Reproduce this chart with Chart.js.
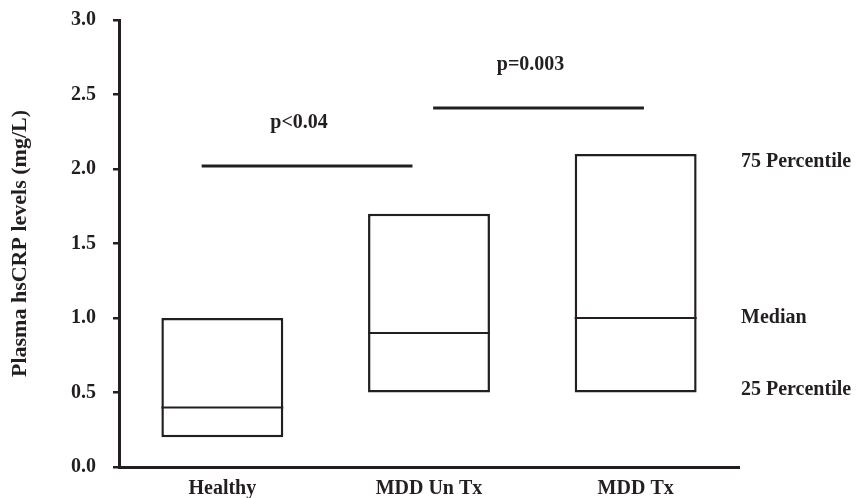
<!DOCTYPE html>
<html>
<head>
<meta charset="utf-8">
<script src="https://cdn.jsdelivr.net/npm/chart.js@4"></script>
<style>
  html, body { margin: 0; padding: 0; background: #fff; }
  #wrap { width: 859px; height: 498px; }
</style>
</head>
<body>
<div id="wrap"><canvas id="crpChart"></canvas></div>
<script>
// groups and box values (mg/L)
const groups = ['Healthy', 'MDD Un Tx', 'MDD Tx'];
const q25 = [0.2, 0.5, 0.5];
const q75 = [1.0, 1.7, 2.1];
const medians = [0.4, 0.9, 1.0];

// significance bars: start/end in category units, level in mg/L
const sigStart = [-0.1, 1.02];
const sigEnd = [0.92, 2.04];
const sigLevel = [2.02, 2.41];
const sigText = ['p<0.04', 'p=0.003'];

// legend labels on the right and the level they sit at
const sideLabels = ['75 Percentile', 'Median', '25 Percentile'];
const sideLevels = [2.05, 1.0, 0.52];

const INK = '#231f20';
const FONT = '"Liberation Serif", "Times New Roman", serif';

// --- median lines, significance bars and side labels ---
const boxExtras = {
  id: 'boxExtras',
  afterDatasetsDraw(chart) {
    const ctx = chart.ctx;
    const x = chart.scales.x, y = chart.scales.y;
    const bars = chart.getDatasetMeta(0).data;
    ctx.save();
    ctx.strokeStyle = INK;
    ctx.lineWidth = 2;
    bars.forEach((bar, i) => {
      const yy = y.getPixelForValue(medians[i]);
      ctx.beginPath();
      ctx.moveTo(bar.x - bar.width / 2, yy);
      ctx.lineTo(bar.x + bar.width / 2, yy);
      ctx.stroke();
    });

    ctx.lineWidth = 3;
    ctx.fillStyle = INK;
    ctx.font = 'bold 20px ' + FONT;
    ctx.textAlign = 'center';
    ctx.textBaseline = 'middle';
    sigText.forEach((t, i) => {
      const x0 = x.getPixelForValue(sigStart[i]);
      const x1 = x.getPixelForValue(sigEnd[i]);
      const yy = y.getPixelForValue(sigLevel[i]);
      ctx.beginPath();
      ctx.moveTo(x0, yy);
      ctx.lineTo(x1, yy);
      ctx.stroke();
      ctx.fillText(t, (x0 + x1) / 2 - 8, yy - 43);
    });

    ctx.textAlign = 'left';
    sideLabels.forEach((t, i) => {
      ctx.fillText(t, chart.chartArea.right + 2, y.getPixelForValue(sideLevels[i]));
    });
    ctx.restore();
  }
};

new Chart(document.getElementById('crpChart'), {
  type: 'bar',
  data: {
    labels: groups,
    datasets: [{
      data: groups.map((g, i) => [q25[i], q75[i]]),
      backgroundColor: '#ffffff',
      borderColor: INK,
      borderWidth: 2.5,
      borderSkipped: false,
      barPercentage: 0.59,
      categoryPercentage: 1
    }]
  },
  options: {
    responsive: true,
    maintainAspectRatio: false,
    animation: false,
    layout: { padding: { top: 20, right: 120, left: 0, bottom: 0 } },
    plugins: { legend: { display: false }, tooltip: { enabled: false } },
    scales: {
      x: {
        grid: { display: false, drawTicks: false },
        border: { display: true, color: INK, width: 3 },
        ticks: { color: INK, padding: 10, font: { family: FONT, size: 20, weight: 'bold' } },
        afterFit(scale) { scale.height = 31; scale.paddingLeft = 0; scale.paddingRight = 0; }
      },
      y: {
        min: 0,
        max: 3,
        grid: { display: true, drawOnChartArea: false, drawTicks: true, tickLength: 6, color: INK, lineWidth: 2.5 },
        border: { display: true, color: INK, width: 3 },
        ticks: {
          stepSize: 0.5,
          color: INK,
          padding: 17,
          font: { family: FONT, size: 20, weight: 'bold' },
          callback: v => v.toFixed(1)
        },
        title: {
          display: true,
          text: 'Plasma hsCRP levels (mg/L)',
          color: INK,
          padding: { top: 7, bottom: 0 },
          font: { family: FONT, size: 22, weight: 'bold' }
        },
        afterFit(scale) { scale.width = 119; scale.paddingTop = 0; scale.paddingBottom = 0; }
      }
    }
  },
  plugins: [boxExtras]
});
</script>
</body>
</html>
